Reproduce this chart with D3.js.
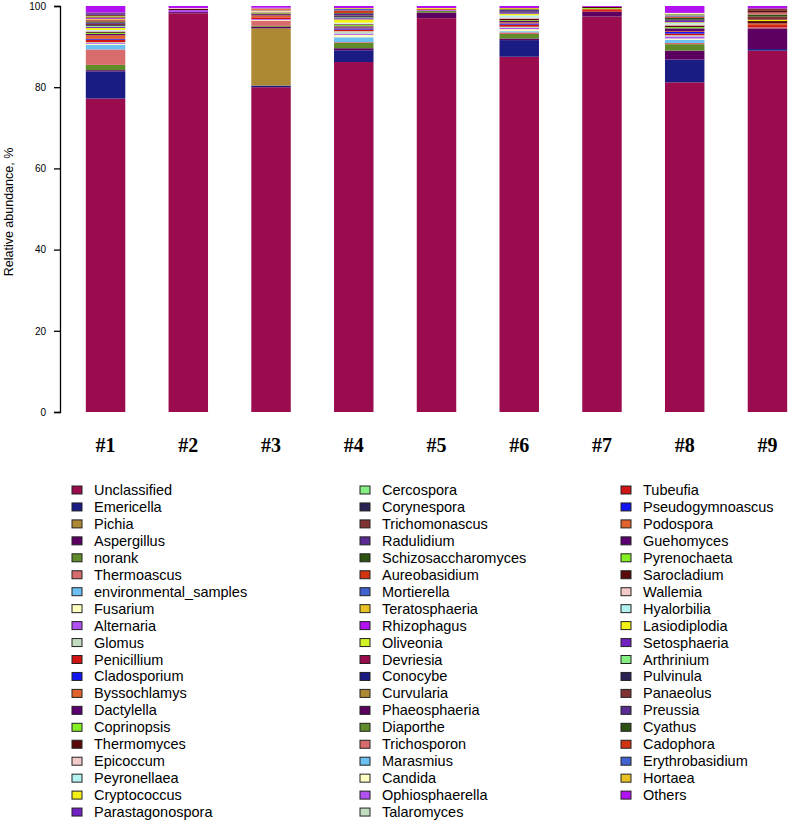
<!DOCTYPE html>
<html>
<head>
<meta charset="utf-8">
<script src="https://cdn.jsdelivr.net/npm/d3@7"></script>
<style>
  body { margin: 0; background: #fff; }
  svg { display: block; }
</style>
</head>
<body>
<svg id="chart" width="790" height="821"></svg>
<script>
const samples = ["#1", "#2", "#3", "#4", "#5", "#6", "#7", "#8", "#9"];

const taxa = [
  "Unclassified", "Emericella", "Pichia", "Aspergillus", "norank", "Thermoascus",
  "environmental_samples", "Fusarium", "Alternaria", "Glomus", "Penicillium",
  "Cladosporium", "Byssochlamys", "Dactylella", "Coprinopsis", "Thermomyces",
  "Epicoccum", "Peyronellaea", "Cryptococcus", "Parastagonospora",
  "Cercospora", "Corynespora", "Trichomonascus", "Radulidium", "Schizosaccharomyces",
  "Aureobasidium", "Mortierella", "Teratosphaeria", "Rhizophagus", "Oliveonia",
  "Devriesia", "Conocybe", "Curvularia", "Phaeosphaeria", "Diaporthe",
  "Trichosporon", "Marasmius", "Candida", "Ophiosphaerella", "Talaromyces",
  "Tubeufia", "Pseudogymnoascus", "Podospora", "Guehomyces", "Pyrenochaeta",
  "Sarocladium", "Wallemia", "Hyalorbilia", "Lasiodiplodia", "Setosphaeria",
  "Arthrinium", "Pulvinula", "Panaeolus", "Preussia", "Cyathus",
  "Cadophora", "Erythrobasidium", "Hortaea", "Others"
];

// 30 colours, reused in order for taxa 31..59
const palette = [
  "#9b0c4e", "#1b1b84", "#ae8934", "#5b0060", "#5f8b2b", "#d86b6b",
  "#6cc0f2", "#ffffc2", "#b050f0", "#c2dcc0", "#d01414", "#1414f0",
  "#e0622c", "#5a0070", "#84f024", "#5a0a0a", "#f2caca", "#b4f2f2",
  "#f2f014", "#7222c2", "#84f084", "#2a2252", "#803232", "#5a2c92",
  "#2c5212", "#d23412", "#4262d2", "#e8c224", "#b212f2", "#d2f224"
];

// relative abundance (%) per taxon, one value per sample #1..#9
const abundance = [
  [77.2, 98.2, 80.0, 86.2, 97.0, 87.5, 97.4, 81.2, 89.0], // Unclassified
  [6.7, 0, 0.4, 2.9, 0, 4.1, 0, 5.6, 0.4],              // Emericella
  [0, 0, 14.1, 0, 0, 0, 0, 0, 0],                       // Pichia
  [0.3, 0.3, 0.4, 0.5, 1.4, 0.4, 1.2, 2.2, 5.1],         // Aspergillus
  [1.3, 0, 0.2, 1.3, 0.4, 1.1, 0, 1.6, 0],               // norank
  [3.8, 0, 1.3, 0.2, 0, 0.4, 0, 0.3, 0.3],               // Thermoascus
  [1.1, 0, 0, 1.2, 0, 0.3, 0, 0.8, 0],                   // environmental_samples
  [0.3, 0, 0.2, 0.6, 0, 0.5, 0, 0.3, 0],                 // Fusarium
  [0.2, 0.5, 0.2, 0.3, 0.2, 0.3, 0, 0.5, 0],             // Alternaria
  [0.2, 0, 0, 0.6, 0, 0.3, 0, 0.3, 0],                   // Glomus
  [0.6, 0, 0.4, 0.4, 0, 0.5, 0.4, 0.4, 0.5],             // Penicillium
  [0.2, 0, 0, 0.3, 0, 0.3, 0, 0.4, 0],                   // Cladosporium
  [0.9, 0, 0.5, 0.2, 0.3, 0.3, 0.3, 0.2, 0.4],           // Byssochlamys
  [0.3, 0, 0.3, 0.3, 0, 0.3, 0, 0.7, 0],                 // Dactylella
  [0.3, 0, 0.2, 0.3, 0, 0.2, 0.2, 0.3, 0],               // Coprinopsis
  [0.3, 0.3, 0.2, 0.2, 0, 0.4, 0.3, 0.4, 0.6],           // Thermomyces
  [0.2, 0.2, 0.3, 0.2, 0, 0.3, 0, 0.3, 0],               // Epicoccum
  [0.2, 0, 0, 0.2, 0, 0.5, 0, 0.3, 0],                   // Peyronellaea
  [0.5, 0, 0.2, 0.8, 0.2, 0.4, 0, 0.2, 0.3],             // Cryptococcus
  [0.3, 0, 0.1, 0.3, 0, 0.3, 0, 0.4, 0],                 // Parastagonospora
  [0.2, 0, 0, 0.2, 0, 0, 0, 0, 0],                       // Cercospora
  [0.2, 0, 0, 0.3, 0, 0.3, 0, 0.3, 0],                   // Corynespora
  [0.3, 0, 0, 0.2, 0, 0, 0, 0, 0.8],                     // Trichomonascus
  [0.3, 0, 0, 0.4, 0, 0.3, 0, 0, 0],                     // Radulidium
  [0.3, 0, 0, 0.2, 0, 0.2, 0, 0.4, 0.5],                 // Schizosaccharomyces
  [0.3, 0, 0.2, 0.6, 0, 0, 0, 0.3, 0],                   // Aureobasidium
  [0.1, 0, 0, 0.4, 0, 0, 0, 0.3, 0],                     // Mortierella
  [0.2, 0, 0.2, 0.2, 0, 0.3, 0, 0.2, 0],                 // Teratosphaeria
  [0.2, 0, 0.2, 0, 0, 0, 0, 0, 0],                       // Rhizophagus
  [0, 0, 0, 0, 0, 0, 0, 0, 0],                           // Oliveonia
  [0, 0, 0, 0, 0, 0, 0, 0, 0],                           // Devriesia
  [0, 0, 0, 0, 0, 0, 0, 0, 0],                           // Conocybe
  [0, 0, 0, 0, 0, 0, 0, 0, 0],                           // Curvularia
  [0, 0, 0, 0, 0, 0, 0, 0, 0],                           // Phaeosphaeria
  [0.2, 0, 0, 0, 0, 0, 0, 0.2, 0],                       // Diaporthe
  [0, 0, 0, 0, 0, 0, 0, 0, 0.5],                         // Trichosporon
  [0, 0, 0, 0, 0, 0, 0, 0, 0],                           // Marasmius
  [0, 0, 0, 0, 0, 0, 0, 0.2, 0],                         // Candida
  [0, 0, 0, 0, 0, 0, 0, 0, 0],                           // Ophiosphaerella
  [0, 0, 0, 0, 0, 0, 0, 0, 0],                           // Talaromyces
  [0.2, 0, 0, 0, 0, 0, 0, 0, 0],                         // Tubeufia
  [0, 0, 0, 0, 0, 0, 0, 0, 0],                           // Pseudogymnoascus
  [0, 0, 0, 0, 0, 0, 0, 0, 0],                           // Podospora
  [0, 0, 0, 0, 0, 0, 0, 0, 0],                           // Guehomyces
  [0.2, 0, 0, 0, 0, 0, 0, 0, 0],                         // Pyrenochaeta
  [0.2, 0, 0, 0, 0, 0, 0, 0, 0.4],                       // Sarocladium
  [0, 0, 0, 0, 0, 0, 0, 0, 0],                           // Wallemia
  [0, 0, 0, 0, 0, 0, 0, 0, 0],                           // Hyalorbilia
  [0, 0, 0, 0, 0, 0, 0, 0, 0],                           // Lasiodiplodia
  [0.2, 0, 0, 0, 0, 0, 0, 0, 0],                         // Setosphaeria
  [0, 0, 0, 0, 0, 0, 0, 0, 0],                           // Arthrinium
  [0.2, 0, 0, 0, 0, 0, 0, 0, 0],                         // Pulvinula
  [0, 0, 0, 0, 0, 0, 0, 0, 0.6],                         // Panaeolus
  [0.2, 0, 0, 0, 0, 0, 0, 0, 0],                         // Preussia
  [0, 0, 0, 0, 0, 0, 0, 0, 0],                           // Cyathus
  [0, 0, 0, 0, 0, 0, 0, 0, 0],                           // Cadophora
  [0, 0, 0, 0, 0, 0, 0, 0, 0],                           // Erythrobasidium
  [0, 0, 0, 0, 0, 0, 0, 0, 0],                           // Hortaea
  [1.6, 0.5, 0.4, 0.5, 0.5, 0.5, 0.2, 1.7, 0.6]          // Others
];

const yTicks = [0, 20, 40, 60, 80, 100];

const svg = d3.select("#chart");

// per-sample rows for the stack layout
const table = samples.map((s, i) => {
  const row = { sample: s };
  taxa.forEach((t, k) => { row[t] = abundance[k][i]; });
  return row;
});

const x = d3.scaleBand()
  .domain(samples)
  .range([61, 812])
  .paddingInner(0.523)
  .paddingOuter(0.3);

const y = d3.scaleLinear().domain([0, 100]).range([412, 6]);

const color = d3.scaleOrdinal().domain(taxa).range(taxa.map((t, k) => palette[k % palette.length]));

const series = d3.stack().keys(taxa)(table);

svg.append("g")
  .selectAll("g")
  .data(series)
  .join("g")
  .attr("fill", d => color(d.key))
  .selectAll("rect")
  .data(d => d)
  .join("rect")
  .attr("x", d => x(d.data.sample))
  .attr("y", d => y(d[1]))
  .attr("width", x.bandwidth())
  .attr("height", d => y(d[0]) - y(d[1]));

// y axis
const yAxis = svg.append("g")
  .attr("transform", "translate(60,0)")
  .call(d3.axisLeft(y).tickValues(yTicks).tickSize(6).tickPadding(8));
yAxis.select(".domain").attr("stroke", "#000").attr("stroke-width", 1.3);
yAxis.selectAll(".tick line").attr("stroke", "#000").attr("stroke-width", 1.3);
yAxis.selectAll(".tick text")
  .attr("font-family", "Liberation Sans, Arial, sans-serif")
  .attr("font-size", 10)
  .attr("fill", "#000");

svg.append("text")
  .attr("transform", "translate(13,212) rotate(-90)")
  .attr("text-anchor", "middle")
  .attr("font-family", "Liberation Sans, Arial, sans-serif")
  .attr("font-size", 12.5)
  .text("Relative abundance, %");

// sample labels
svg.append("g")
  .selectAll("text")
  .data(samples)
  .join("text")
  .attr("x", d => x(d) + x.bandwidth() / 2)
  .attr("y", 452)
  .attr("text-anchor", "middle")
  .attr("font-family", "Liberation Serif, Times New Roman, serif")
  .attr("font-weight", "bold")
  .attr("font-size", 20)
  .text(d => d);

// legend, three columns
const colX = [72, 360, 621];
const colRows = [20, 20, 19];
const legendItems = taxa.map((t, k) => {
  let col = 0, row = k;
  while (row >= colRows[col]) { row -= colRows[col]; col++; }
  return { name: t, col, row };
});

const legend = svg.append("g")
  .selectAll("g")
  .data(legendItems)
  .join("g")
  .attr("transform", d => `translate(${colX[d.col]},${490 + d.row * 16.95})`);

legend.append("rect")
  .attr("x", 0)
  .attr("y", -4)
  .attr("width", 10)
  .attr("height", 8)
  .attr("fill", d => color(d.name))
  .attr("stroke", "#222")
  .attr("stroke-width", 1);

legend.append("text")
  .attr("x", 22)
  .attr("y", 5)
  .attr("font-family", "Liberation Sans, Arial, sans-serif")
  .attr("font-size", 14.5)
  .text(d => d.name);
</script>
</body>
</html>
